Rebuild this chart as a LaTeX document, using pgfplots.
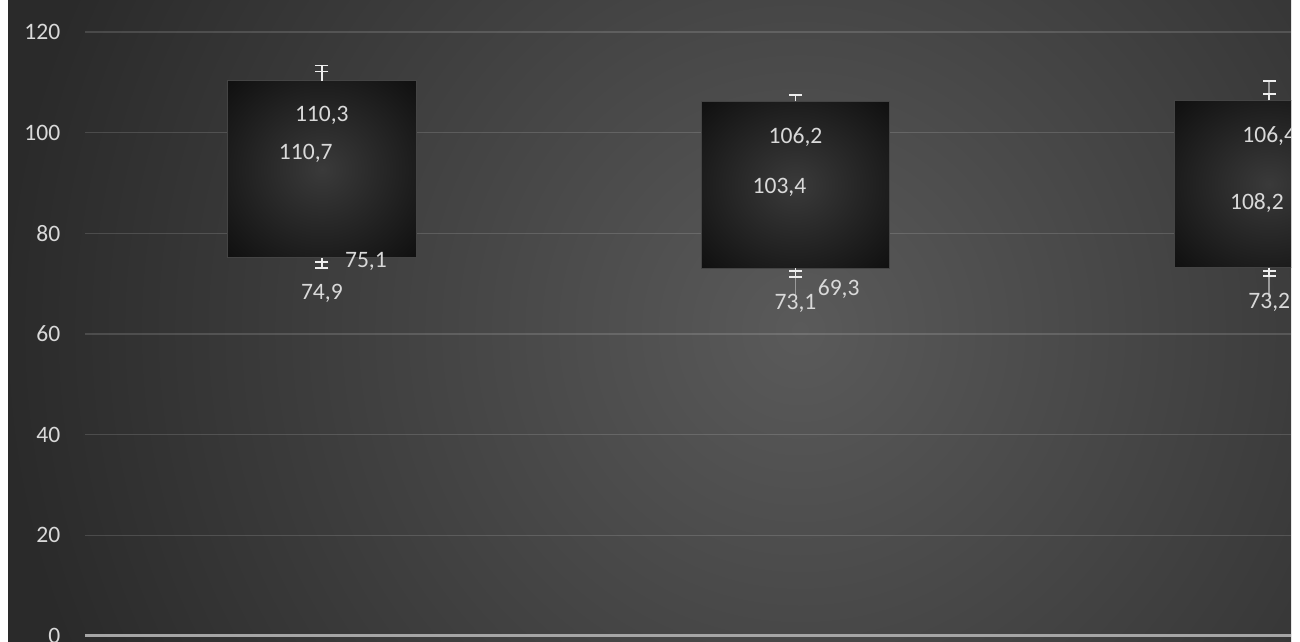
\documentclass[border=0pt]{standalone}
\usepackage{fontspec}
\setmainfont{Carlito}
\usepackage{pgfplots}
\pgfplotsset{compat=1.18}
\definecolor{txt}{HTML}{D9D9D9}
\definecolor{bgin}{HTML}{5A5A5A}
\definecolor{bgout}{HTML}{2A2A2A}
\definecolor{bxin}{HTML}{3A3A3A}
\definecolor{bxmid}{HTML}{1C1C1C}
\definecolor{bxout}{HTML}{0F0F0F}
\definecolor{zero}{HTML}{A6A6A6}
\definecolor{bxedge}{HTML}{444444}
\definecolor{eb}{HTML}{EEEEEE}
\definecolor{ebg}{HTML}{9A9A9A}
\pgfdeclareradialshading{bgshade}{\pgfpoint{0bp}{0bp}}{color(0bp)=(bgin); color(25bp)=(bgout); color(50bp)=(bgout)}
\pgfdeclareradialshading{boxshade}{\pgfpoint{0bp}{0bp}}{color(0bp)=(bxin); color(25bp)=(bxmid); color(36bp)=(bxout); color(50bp)=(bxout)}
\newcommand{\lblfont}{\fontsize{6.7}{8}\selectfont}
\begin{document}
\begin{tikzpicture}[x=1cm,y=1cm]
\fill[white] (0,0) rectangle (13,6.42);
\useasboundingbox (0,0) rectangle (13,6.42);
\begin{scope}
\clip (0.08,0) rectangle (12.91,6.42);
\shade[shading=bgshade] (0,-4.88) rectangle (16,11.12);
\begin{axis}[
  at={(0.85cm,0.06cm)}, anchor=south west,
  scale only axis, width=12.06cm, height=6.04cm,
  xmin=-0.5, xmax=2.046, ymin=0, ymax=120,
  xtick=\empty,
  ytick={20,40,...,120},
  extra y ticks={0},
  extra y tick style={major grid style={draw=zero, line width=0.03cm, opacity=1}},
  ymajorgrids,
  grid style={draw=white, opacity=0.14, line width=0.015cm},
  axis line style={draw=none},
  major tick length=0pt,
  tick style={draw=none},
  yticklabel style={inner sep=0pt, xshift=-0.24cm, text=txt, font=\lblfont},
  /pgf/number format/assume math mode=true,
]
% boxes
\addplot[draw=bxedge, line width=0.01cm, shade, shading=boxshade] coordinates {(-0.199,75.1) (0.199,75.1) (0.199,110.3) (-0.199,110.3)} -- cycle;
\addplot[draw=bxedge, line width=0.01cm, shade, shading=boxshade] coordinates {(0.801,73.1) (1.199,73.1) (1.199,106.2) (0.801,106.2)} -- cycle;
\addplot[draw=bxedge, line width=0.01cm, shade, shading=boxshade] coordinates {(1.801,73.2) (2.199,73.2) (2.199,106.4) (1.801,106.4)} -- cycle;
% error bar stems
\addplot[draw=eb, line width=0.015cm] coordinates {(0,110.3) (0,113.3)};
\addplot[draw=eb, line width=0.015cm] coordinates {(0,75.1) (0,73.1)};
\addplot[draw=eb, line width=0.015cm] coordinates {(1,106.2) (1,107.5)};
\addplot[draw=eb, line width=0.015cm] coordinates {(1,73.1) (1,71.3)};
\addplot[draw=ebg, line width=0.015cm] coordinates {(1,71.3) (1,67.3)};
\addplot[draw=eb, line width=0.015cm] coordinates {(2,106.4) (2,107.7)};
\addplot[draw=ebg, line width=0.015cm] coordinates {(2,107.7) (2,110.3)};
\addplot[draw=eb, line width=0.015cm] coordinates {(2,73.2) (2,71.5)};
\addplot[draw=ebg, line width=0.015cm] coordinates {(2,71.5) (2,67.3)};
% caps
\addplot[only marks, mark=-, mark size=0.065cm, draw=eb, mark options={line width=0.015cm}] coordinates {(0,113.3) (0,112.1) (0,74.3) (0,73.1) (1,107.5) (1,72.5) (1,71.3) (2,110.3) (2,107.7) (2,72.5) (2,71.5)};
% labels
\addplot[only marks, mark=none, nodes near coords, point meta=explicit symbolic,
  every node near coord/.append style={anchor=center, text=txt, font=\lblfont, inner sep=0pt}] coordinates {
(0,103.4) [{110,3}]
(-0.034,95.8) [{110,7}]
(0.093,74.5) [{75,1}]
(0,68.1) [{74,9}]
(1,99.1) [{106,2}]
(0.966,89.1) [{103,4}]
(1.091,68.9) [{69,3}]
(1,66.1) [{73,1}]
(2,99.4) [{106,4}]
(1.974,86.1) [{108,2}]
(2,66.2) [{73,2}]
};
\end{axis}
\end{scope}
\end{tikzpicture}
\end{document}
